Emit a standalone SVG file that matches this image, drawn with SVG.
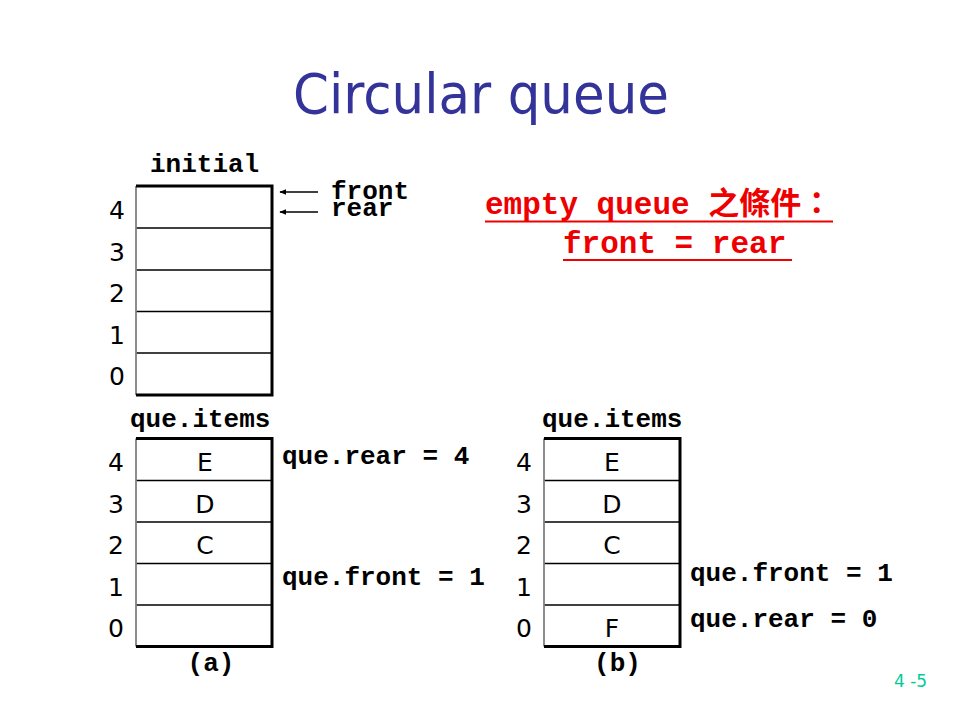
<svg xmlns="http://www.w3.org/2000/svg" width="960" height="720" viewBox="0 0 960 720">
<defs>
<style>
.mono{font-family:"Liberation Mono","Courier New",monospace;font-weight:bold;font-size:26px;fill:#000}
.sans{font-family:"DejaVu Sans",Verdana,Tahoma,sans-serif;font-size:25px;fill:#000;text-anchor:middle}
.red{font-family:"Liberation Mono","Noto Sans CJK TC",monospace;font-weight:bold;font-size:31px;fill:#ee0000}
.row{stroke:#000;stroke-width:1.5}
.left{stroke:#808080;stroke-width:1.8}
.edge{stroke:#000;stroke-width:3;fill:none}
.arrow{stroke:#000;stroke-width:1.3;marker-end:url(#ah)}
</style>
<marker id="ah" viewBox="0 0 10 10" refX="9" refY="5" markerWidth="7" markerHeight="7" markerUnits="userSpaceOnUse" orient="auto">
<path d="M0,1 L10,5 L0,9 z" fill="#000"/>
</marker>
</defs>
<rect width="960" height="720" fill="#fff"/>

<g id="title">
<text x="293" y="113" font-family="DejaVu Sans, Verdana, Tahoma, sans-serif" font-size="55" fill="#333399" textLength="376" lengthAdjust="spacingAndGlyphs">Circular queue</text>
</g>

<g id="queue-initial">
<text class="mono" x="150" y="172">initial</text>
<rect x="136" y="186" width="136" height="209" fill="#fff"/>
<line class="row" x1="136" y1="228" x2="272" y2="228"/>
<line class="row" x1="136" y1="270" x2="272" y2="270"/>
<line class="row" x1="136" y1="311.5" x2="272" y2="311.5"/>
<line class="row" x1="136" y1="353" x2="272" y2="353"/>
<line class="left" x1="136" y1="186" x2="136" y2="395"/>
<path class="edge" d="M136,186 H272 V395 H136"/>
<text class="sans" x="117" y="218.5">4</text>
<text class="sans" x="117" y="260.5">3</text>
<text class="sans" x="117" y="302">2</text>
<text class="sans" x="117" y="343.5">1</text>
<text class="sans" x="117" y="385">0</text>
<text class="mono" x="331" y="199">front</text>
<text class="mono" x="331" y="216">rear</text>
</g>

<g id="connectors">
<line class="arrow" x1="318" y1="192" x2="280" y2="192"/>
<line class="arrow" x1="318" y1="212" x2="280" y2="212"/>
</g>

<g id="empty-condition">
<text class="red" x="485" y="214">empty queue 之條件：</text>
<line x1="485" y1="221.5" x2="833" y2="221.5" stroke="#ee0000" stroke-width="2"/>
<text class="red" x="563" y="253">front = rear</text>
<line x1="563" y1="260" x2="792" y2="260" stroke="#ee0000" stroke-width="2"/>
</g>

<g id="queue-a">
<text class="mono" x="130" y="427">que.items</text>
<rect x="136" y="438.5" width="136" height="208" fill="#fff"/>
<line class="row" x1="136" y1="480.5" x2="272" y2="480.5"/>
<line class="row" x1="136" y1="522" x2="272" y2="522"/>
<line class="row" x1="136" y1="563.5" x2="272" y2="563.5"/>
<line class="row" x1="136" y1="605" x2="272" y2="605"/>
<line class="left" x1="136" y1="438.5" x2="136" y2="646.5"/>
<path class="edge" d="M136,438.5 H272 V646.5 H136"/>
<text class="sans" x="116" y="471">4</text>
<text class="sans" x="116" y="512.5">3</text>
<text class="sans" x="116" y="554">2</text>
<text class="sans" x="116" y="595.5">1</text>
<text class="sans" x="116" y="637">0</text>
<text class="sans" x="205" y="471">E</text>
<text class="sans" x="205" y="512.5">D</text>
<text class="sans" x="205" y="554">C</text>
<text class="mono" x="282" y="463.5">que.rear = 4</text>
<text class="mono" x="282" y="584.5">que.front = 1</text>
<text class="mono" x="211" y="671" text-anchor="middle">(a)</text>
</g>

<g id="queue-b">
<text class="mono" x="542" y="427">que.items</text>
<rect x="544" y="438.5" width="136" height="208" fill="#fff"/>
<line class="row" x1="544" y1="480.5" x2="680" y2="480.5"/>
<line class="row" x1="544" y1="522" x2="680" y2="522"/>
<line class="row" x1="544" y1="563.5" x2="680" y2="563.5"/>
<line class="row" x1="544" y1="605" x2="680" y2="605"/>
<line class="left" x1="544" y1="438.5" x2="544" y2="646.5"/>
<path class="edge" d="M544,438.5 H680 V646.5 H544"/>
<text class="sans" x="524" y="471">4</text>
<text class="sans" x="524" y="512.5">3</text>
<text class="sans" x="524" y="554">2</text>
<text class="sans" x="524" y="595.5">1</text>
<text class="sans" x="524" y="637">0</text>
<text class="sans" x="612" y="471">E</text>
<text class="sans" x="612" y="512.5">D</text>
<text class="sans" x="612" y="554">C</text>
<text class="sans" x="612" y="637">F</text>
<text class="mono" x="690" y="580.5">que.front = 1</text>
<text class="mono" x="690" y="627">que.rear = 0</text>
<text class="mono" x="617.5" y="671" text-anchor="middle">(b)</text>
</g>

<g id="page-number">
<text x="894" y="687" font-family="DejaVu Sans, Verdana, Tahoma, sans-serif" font-size="17" fill="#00cc99">4 -5</text>
</g>
</svg>
